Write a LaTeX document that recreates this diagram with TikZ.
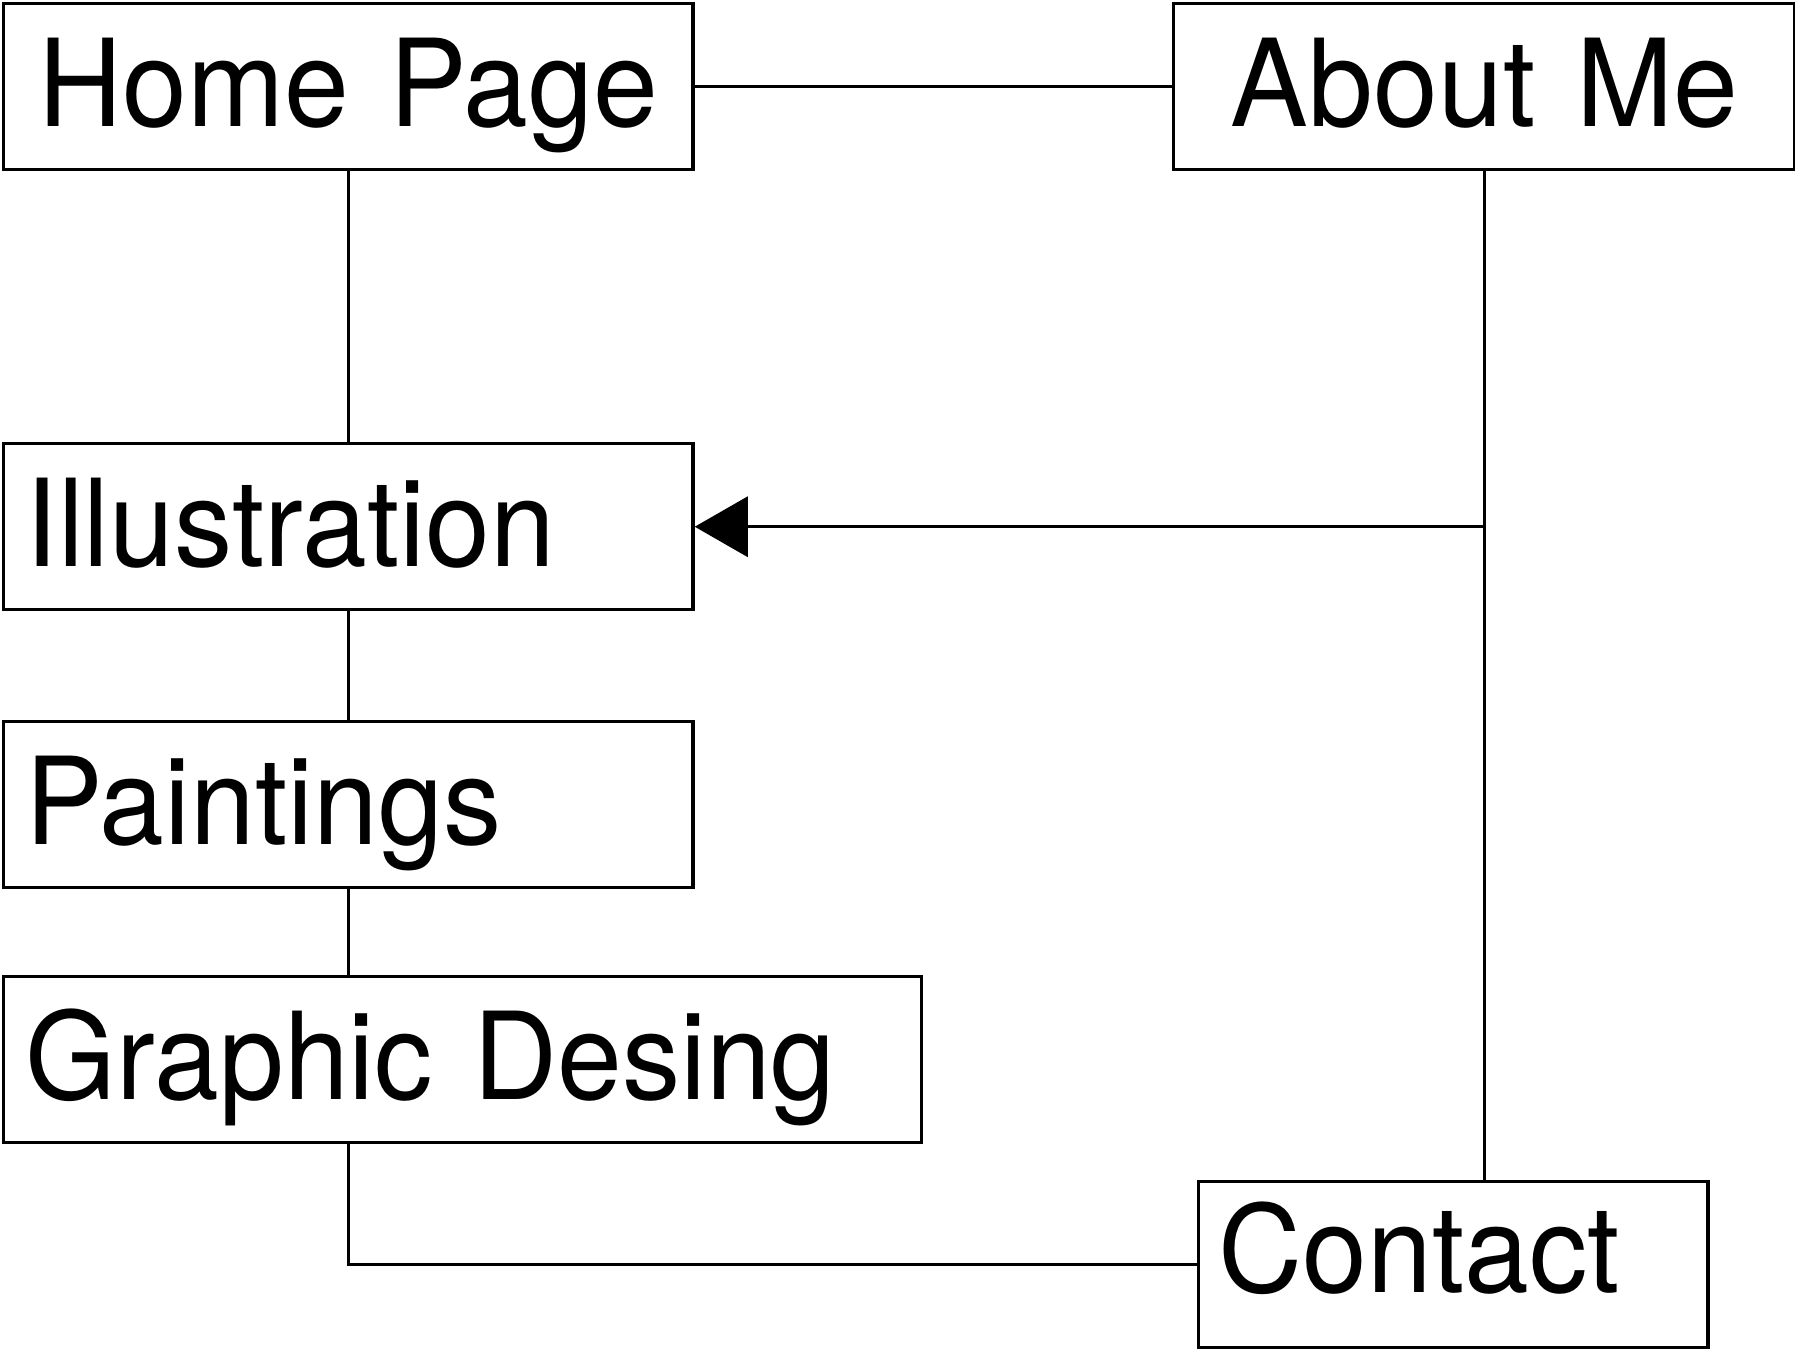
\documentclass[tikz,border=0pt]{standalone}
\usepackage{fontspec}
\setmainfont[FakeStretch=0.96]{TeX Gyre Heros}
\usetikzlibrary{arrows.meta}

\begin{document}
\begin{tikzpicture}[x=0.01cm, y=-0.01cm,
      every node/.style={font=\fontsize{34.5}{40}\selectfont},
      page/.style={draw, line width=0.95pt, anchor=north west,
        minimum height=1.66cm, inner xsep=0.22cm, align=left,
        text height=0.88cm, text depth=0.09cm},
      link/.style={line width=0.95pt}]
    \useasboundingbox (0,0) rectangle (1795,1348);
    % site pages
    \node[page, text width=6.45cm, align=center] (home) at (2,2) {Home Page};
    \node[page, text width=5.77cm, align=center] (about) at (1172,2) {About Me};
    \node[page, text width=6.45cm] (illus) at (2,442) {Illustration};
    \node[page, text width=6.45cm] (paint) at (2,720) {Paintings};
    \node[page, text width=8.73cm] (graphic) at (2,975) {Graphic Desing};
    \node[page, text width=4.69cm, inner xsep=0.2cm, text depth=0.32cm] (contact) at (1197,1180) {Contact};
    % links
    \coordinate (split) at (about.south |- illus.east);
    \coordinate (turn) at (paint.south |- graphic.south);
    \draw[link] (home.east) -- (about.west);
    \draw[link] (home.south) -- (illus.north);
    \draw[link] (illus.south) -- (paint.north);
    \draw[link] (paint.south) -- (paint.south |- graphic.north);
    \draw[link] (turn) |- (contact.west);
    \draw[link] (about.south) -- (about.south |- contact.north);
    \draw[link, -{Triangle[length=0.53cm, width=0.6cm]}] (split) -- (illus.east);
  \end{tikzpicture}
\end{document}
